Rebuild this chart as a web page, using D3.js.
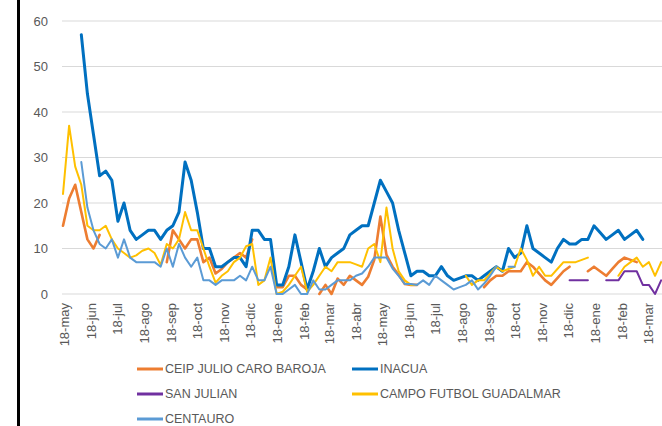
<!DOCTYPE html>
<html>
<head>
<meta charset="utf-8">
<script src="https://cdn.jsdelivr.net/npm/d3@7"></script>
<style>
    body { margin: 0; background: #ffffff; }
    svg text { font-family: "Liberation Sans", Arial, sans-serif; fill: #595959; }
</style>
</head>
<body>
<svg id="chart"></svg>
<script>
// weekly readings, first week = 2018-05-18
const startDate = '2018-05-18';
const endDate   = '2020-04-04';

const tickLabels = ['18-may','18-jun','18-jul','18-ago','18-sep','18-oct','18-nov','18-dic',
                    '18-ene','18-feb','18-mar','18-abr','18-may','18-jun','18-jul','18-ago',
                    '18-sep','18-oct','18-nov','18-dic','18-ene','18-feb','18-mar'];
const yTicks = [0, 10, 20, 30, 40, 50, 60];

const seriesNames = ['CEIP JULIO CARO BAROJA', 'INACUA', 'SAN JULIAN', 'CAMPO FUTBOL GUADALMAR', 'CENTAURO'];

const ceip = [
    15, 21, 24, 18, 12, 10, 13, null, null, null,
    null, null, null, null, null, null, null, 7, 14, 12,
    10, 12, 12, 7, 8, 4.5, 5.5, 7, 8, 9,
    8, 12, null, null, null, 1.5, 1.5, 4, 4, 2,
    1, null, 0, 2, 0, 3.4, 2, 4, 3, 2,
    3.8, 7.5, 17, 8.6, 6, 4.2, 2.2, 2, 2, null,
    null, null, null, null, null, null, null, null, null, 1.5,
    3, 4, 4, 5, 5, 5, 7, 6, 4.5, 3,
    2, 3.5, 5, 6, null, null, 5, 6, 5, 4,
    5.5, 7, 8, 7.5, 7, null, null, null, null
];
const inacua = [
    null, null, null, 57, 44, 35, 26, 27, 25, 16,
    20, 14, 12, 13, 14, 14, 12, 14, 15, 18,
    29, 25, 18, 10, 10, 6, 6, 7, 8, 8,
    6, 14, 14, 12, 12, 2, 2, 6, 13, 7,
    1, 5, 10, 6, 8, 9, 10, 13, 14, 15,
    15, 20, 25, 22.5, 20, 14, 9, 4, 5, 5,
    4, 4, 6, 4, 3, 3.5, 4, 4, 3, 4,
    5, 6, 5, 10, 8, 9, 15, 10, 9, 8,
    7, 10, 12, 11, 11, 12, 12, 15, 13.5, 12,
    13, 14, 12, 13, 14, 12, null, null, null
];
const sanJulian = [
    null, null, null, null, null, null, null, null, null, null,
    null, null, null, null, null, null, null, null, null, null,
    null, null, null, null, null, null, null, null, null, null,
    null, null, null, null, null, null, null, null, null, null,
    null, null, null, null, null, null, null, null, null, null,
    null, null, null, null, null, null, null, null, null, null,
    null, null, null, null, null, null, null, null, null, null,
    null, null, null, null, null, null, null, null, null, null,
    null, null, null, 3, 3, 3, 3, null, null, 3,
    3, 3, 5, 5, 5, 2, 2, 0, 3
];
const campo = [
    22, 37, 28, 24, 15, 14, 14, 15, 12, 10,
    9, 8, 8.5, 9.5, 10, 9, 6.4, 11, 10, 12,
    18, 14, 14, 10, 6, 2.5, 4, 5, 7, 8,
    10.5, 11, 2, 3, 8, 0, 0.5, 2, 4, 6,
    0.5, 2, 4, 6, 5, 7, 7, 7, 6.5, 6,
    10, 11, 7, 19, 10, 5, 3, 2, 2, null,
    null, null, null, null, null, null, 4, 2, 3, 3,
    4.5, 6, 5, 5.5, 6, 10, 7.5, 4, 6, 4,
    4, 5.5, 7, 7, 7, 7.5, 8, null, null, null,
    null, 4, 6, 7, 8, 6, 7, 4, 7
];
const centauro = [
    null, null, null, 29, 19, 14, 11, 10, 12, 8,
    12, 8, 7, 7, 7, 7, 6, 10, 6, 11,
    8, 6, 8, 3, 3, 2, 3, 3, 3, 4,
    3, 6, 3, 3, 6, 0, 0, 1, 2, 0,
    0, 3, 1, 1, 2, 3, 3, 3, 4, 4.5,
    6, 8, 8, 8, 5.6, 4, 2.2, 2.2, 2, 3,
    2, 4, 3, 2, 1, 1.5, 2, 3, 1, 2.3,
    4, 6, null, 6, 6, null, null, null, null, null,
    null, null, null, null, null, null, null, null, null, null,
    null, null, null, null, null, null, null, null, null
];

class LineChart {
    constructor (options) {
        this._options = options;
    }
    makeScales () {
        let parse = d3.timeParse('%Y-%m-%d');
        this._start = parse(startDate);

        this._x = d3.scaleTime()
            .domain([this._start, parse(endDate)])
            .range([63, 662]);

        this._y = d3.scaleLinear()
            .domain([0, 60])
            .range([294, 21]);
    }
    makeSeries () {
        let values = [ceip, inacua, sanJulian, campo, centauro];
        let colors = ['#ed7d31', '#0070c0', '#7030a0', '#ffc000', '#5b9bd5'];
        let widths = [2.6, 3, 2, 2, 2];

        return seriesNames.map((name, i) => {
            return {
                name: name,
                color: colors[i],
                width: widths[i],
                points: values[i].map((v, k) => {
                    return { date: d3.timeDay.offset(this._start, k * 7), v: v };
                })
            };
        });
    }
    drawGrid (svg) {
        svg.append('g')
            .selectAll('line')
            .data(yTicks)
            .enter()
            .append('line')
            .attr('x1', 62)
            .attr('x2', 662)
            .attr('y1', (d) => { return this._y(d); })
            .attr('y2', (d) => { return this._y(d); })
            .attr('stroke', '#d9d9d9')
            .attr('stroke-width', 1);

        svg.append('g')
            .selectAll('text')
            .data(yTicks)
            .enter()
            .append('text')
            .attr('x', 48)
            .attr('y', (d) => { return this._y(d); })
            .attr('dy', '0.35em')
            .attr('text-anchor', 'end')
            .style('font-size', '13px')
            .text((d) => { return d; });
    }
    drawXLabels (svg) {
        let ticks = tickLabels.map((label, i) => {
            return { label: label, date: d3.timeMonth.offset(this._start, i) };
        });

        svg.append('g')
            .selectAll('text')
            .data(ticks)
            .enter()
            .append('text')
            .attr('transform', (d) => {
                return 'translate(' + (this._x(d.date) + 1) + ',303) rotate(-90)';
            })
            .attr('dy', '0.35em')
            .attr('text-anchor', 'end')
            .style('font-size', '13px')
            .text((d) => { return d.label; });
    }
    drawLines (svg, series) {
        let line = d3.line()
            .defined((d) => { return d.v !== null; })
            .x((d) => { return this._x(d.date); })
            .y((d) => { return this._y(d.v); });

        svg.append('g')
            .selectAll('path')
            .data(series)
            .enter()
            .append('path')
            .attr('d', (d) => { return line(d.points); })
            .attr('fill', 'none')
            .attr('stroke', (d) => { return d.color; })
            .attr('stroke-width', (d) => { return d.width; })
            .attr('stroke-linejoin', 'round')
            .attr('stroke-linecap', 'round');
    }
    drawLegend (svg, series) {
        let cols = [137, 352];
        let rows = [369, 394, 419];

        let items = svg.append('g')
            .selectAll('g')
            .data(series)
            .enter()
            .append('g')
            .attr('transform', (d, i) => {
                return 'translate(' + cols[i % 2] + ',' + rows[Math.floor(i / 2)] + ')';
            });

        items.append('line')
            .attr('x1', 0)
            .attr('x2', 26)
            .attr('stroke', (d) => { return d.color; })
            .attr('stroke-width', 3);

        items.append('text')
            .attr('x', 28)
            .attr('dy', '0.35em')
            .style('font-size', '12.5px')
            .text((d) => { return d.name; });
    }
    draw () {
        let svg = d3.select(this._options.selector)
            .attr('width', 662)
            .attr('height', 426);

        svg.append('rect')
            .attr('width', 662)
            .attr('height', 426)
            .attr('fill', '#ffffff');

        // left border of the pasted frame
        svg.append('rect')
            .attr('x', 17)
            .attr('width', 3)
            .attr('height', 426)
            .attr('fill', '#000000');

        this.makeScales();
        let series = this.makeSeries();

        this.drawGrid(svg);
        this.drawXLabels(svg);
        this.drawLines(svg, series);
        this.drawLegend(svg, series);

        return this;
    }
}

new LineChart({ selector: '#chart' }).draw();
</script>
</body>
</html>
